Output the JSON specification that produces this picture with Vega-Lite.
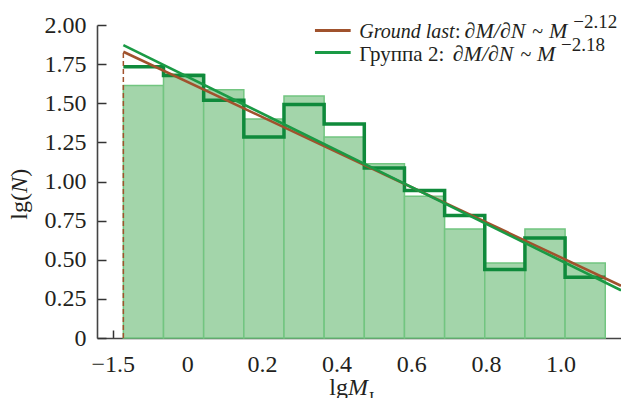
{
  "$schema": "https://vega.github.io/schema/vega-lite/v6.json",
  "width": 524,
  "height": 313,
  "autosize": {"type": "none"},
  "padding": {"left": 97, "top": 25, "right": 0, "bottom": 60},
  "background": "white",
  "config": {
    "view": {"stroke": null},
    "axis": {
      "labelFont": "Liberation Serif",
      "labelFontSize": 24,
      "labelColor": "#231f20",
      "labelOverlap": false,
      "domainColor": "#444",
      "domainWidth": 1.6,
      "tickColor": "#333",
      "tickWidth": 1.5,
      "grid": false,
      "title": null
    },
    "text": {"font": "Liberation Serif", "color": "#231f20", "baseline": "alphabetic", "align": "left"}
  },
  "datasets": {
    "bars": [
      {"x": -0.1714, "x2": -0.0638, "lgN": 1.613},
      {"x": -0.0638, "x2": 0.0438, "lgN": 1.686},
      {"x": 0.0438, "x2": 0.1514, "lgN": 1.586},
      {"x": 0.1514, "x2": 0.2590, "lgN": 1.400},
      {"x": 0.2590, "x2": 0.3666, "lgN": 1.547},
      {"x": 0.3666, "x2": 0.4742, "lgN": 1.285},
      {"x": 0.4742, "x2": 0.5818, "lgN": 1.114},
      {"x": 0.5818, "x2": 0.6894, "lgN": 0.905},
      {"x": 0.6894, "x2": 0.7970, "lgN": 0.697},
      {"x": 0.7970, "x2": 0.9046, "lgN": 0.479},
      {"x": 0.9046, "x2": 1.0122, "lgN": 0.697},
      {"x": 1.0122, "x2": 1.1198, "lgN": 0.479}
    ],
    "step": [
      {"x": -0.1714, "lgN": 1.733},
      {"x": -0.0638, "lgN": 1.677},
      {"x": 0.0438, "lgN": 1.519},
      {"x": 0.1514, "lgN": 1.285},
      {"x": 0.2590, "lgN": 1.492},
      {"x": 0.3666, "lgN": 1.368},
      {"x": 0.4742, "lgN": 1.087},
      {"x": 0.5818, "lgN": 0.942},
      {"x": 0.6894, "lgN": 0.782},
      {"x": 0.7970, "lgN": 0.437},
      {"x": 0.9046, "lgN": 0.639},
      {"x": 1.0122, "lgN": 0.388},
      {"x": 1.1198, "lgN": 0.388}
    ],
    "fits": [
      {"series": "Ground last", "x": -0.1714, "lgN": 1.829},
      {"series": "Ground last", "x": 1.162, "lgN": 0.334},
      {"series": "Группа 2", "x": -0.1714, "lgN": 1.871},
      {"series": "Группа 2", "x": 1.162, "lgN": 0.305}
    ],
    "one": [{}]
  },
  "layer": [
    {
      "data": {"name": "bars"},
      "mark": {"type": "rect", "fill": "#a3d5aa", "stroke": "#72c580", "strokeWidth": 1.5},
      "encoding": {
        "x": {"field": "x", "type": "quantitative",
          "scale": {"domain": [-0.242, 1.162], "nice": false, "zero": false},
          "axis": {"values": [-0.2, 0, 0.2, 0.4, 0.6, 0.8, 1.0], "tickSize": -8, "labelPadding": 22, "labelOverlap": false, "labelExpr": "datum.value < -0.1 ? '−1.5' : (datum.value == 0 ? '0' : format(datum.value, '.1f'))"}},
        "x2": {"field": "x2"},
        "y": {"field": "lgN", "type": "quantitative",
          "scale": {"domain": [0, 2], "nice": false, "zero": true},
          "axis": {"values": [0, 0.25, 0.5, 0.75, 1, 1.25, 1.5, 1.75, 2], "tickSize": -9, "labelPadding": 20, "labelOverlap": false, "labelBaseline": "middle", "labelExpr": "datum.value == 0 ? '0' : format(datum.value, '.2f')"}},
        "y2": {"datum": 0}
      }
    },
    {
      "data": {"name": "step"},
      "mark": {"type": "line", "interpolate": "step-after", "stroke": "#0f8a3b", "strokeWidth": 3.5, "strokeJoin": "miter", "strokeCap": "butt"},
      "encoding": {
        "x": {"field": "x", "type": "quantitative",
          "axis": {"values": [-0.2, 0, 0.2, 0.4, 0.6, 0.8, 1.0], "tickSize": -8, "labelPadding": 22, "labelOverlap": false, "labelExpr": "datum.value < -0.1 ? '−1.5' : (datum.value == 0 ? '0' : format(datum.value, '.1f'))"}},
        "y": {"field": "lgN", "type": "quantitative",
          "axis": {"values": [0, 0.25, 0.5, 0.75, 1, 1.25, 1.5, 1.75, 2], "tickSize": -9, "labelPadding": 20, "labelOverlap": false, "labelBaseline": "middle", "labelExpr": "datum.value == 0 ? '0' : format(datum.value, '.2f')"}}
      }
    },
    {
      "data": {"name": "one"},
      "mark": {"type": "rule", "stroke": "#a0522d", "strokeWidth": 1.5, "strokeDash": [5, 3]},
      "encoding": {
        "x": {"datum": -0.1714,
          "axis": {"values": [-0.2, 0, 0.2, 0.4, 0.6, 0.8, 1.0], "tickSize": -8, "labelPadding": 22, "labelOverlap": false, "labelExpr": "datum.value < -0.1 ? '−1.5' : (datum.value == 0 ? '0' : format(datum.value, '.1f'))"}},
        "y": {"datum": 0,
          "axis": {"values": [0, 0.25, 0.5, 0.75, 1, 1.25, 1.5, 1.75, 2], "tickSize": -9, "labelPadding": 20, "labelOverlap": false, "labelBaseline": "middle", "labelExpr": "datum.value == 0 ? '0' : format(datum.value, '.2f')"}},
        "y2": {"datum": 1.829}
      }
    },
    {
      "data": {"name": "fits"},
      "mark": {"type": "line", "strokeWidth": 2.6, "strokeCap": "butt"},
      "encoding": {
        "x": {"field": "x", "type": "quantitative",
          "axis": {"values": [-0.2, 0, 0.2, 0.4, 0.6, 0.8, 1.0], "tickSize": -8, "labelPadding": 22, "labelOverlap": false, "labelExpr": "datum.value < -0.1 ? '−1.5' : (datum.value == 0 ? '0' : format(datum.value, '.1f'))"}},
        "y": {"field": "lgN", "type": "quantitative",
          "axis": {"values": [0, 0.25, 0.5, 0.75, 1, 1.25, 1.5, 1.75, 2], "tickSize": -9, "labelPadding": 20, "labelOverlap": false, "labelBaseline": "middle", "labelExpr": "datum.value == 0 ? '0' : format(datum.value, '.2f')"}},
        "color": {"field": "series", "type": "nominal",
          "scale": {"domain": ["Ground last", "Группа 2"], "range": ["#a0522d", "#1a9a45"]},
          "legend": null},
        "order": {"field": "series"}
      }
    },
    {
      "data": {"name": "one"},
      "mark": {"type": "rule", "stroke": "#a0522d", "strokeWidth": 3},
      "encoding": {
        "x": {"datum": 0.342, "axis": {"values": [-0.2, 0, 0.2, 0.4, 0.6, 0.8, 1.0], "tickSize": -8, "labelPadding": 22, "labelOverlap": false, "labelExpr": "datum.value < -0.1 ? '−1.5' : (datum.value == 0 ? '0' : format(datum.value, '.1f'))"}},
        "x2": {"datum": 0.4377},
        "y": {"datum": 1.965, "axis": {"values": [0, 0.25, 0.5, 0.75, 1, 1.25, 1.5, 1.75, 2], "tickSize": -9, "labelPadding": 20, "labelOverlap": false, "labelBaseline": "middle", "labelExpr": "datum.value == 0 ? '0' : format(datum.value, '.2f')"}}
      }
    },
    {
      "data": {"name": "one"},
      "mark": {"type": "rule", "stroke": "#1a9a45", "strokeWidth": 3},
      "encoding": {
        "x": {"datum": 0.342, "axis": {"values": [-0.2, 0, 0.2, 0.4, 0.6, 0.8, 1.0], "tickSize": -8, "labelPadding": 22, "labelOverlap": false, "labelExpr": "datum.value < -0.1 ? '−1.5' : (datum.value == 0 ? '0' : format(datum.value, '.1f'))"}},
        "x2": {"datum": 0.4377},
        "y": {"datum": 1.824, "axis": {"values": [0, 0.25, 0.5, 0.75, 1, 1.25, 1.5, 1.75, 2], "tickSize": -9, "labelPadding": 20, "labelOverlap": false, "labelBaseline": "middle", "labelExpr": "datum.value == 0 ? '0' : format(datum.value, '.2f')"}}
      }
    },
    {
      "data": {"name": "one"},
      "mark": {"type": "text", "text": "Ground last", "fontStyle": "italic", "fontSize": 20},
      "encoding": {
        "x": {"datum": 0.4608, "axis": {"values": [-0.2, 0, 0.2, 0.4, 0.6, 0.8, 1.0], "tickSize": -8, "labelPadding": 22, "labelOverlap": false, "labelExpr": "datum.value < -0.1 ? '−1.5' : (datum.value == 0 ? '0' : format(datum.value, '.1f'))"}},
        "y": {"datum": 1.920, "axis": {"values": [0, 0.25, 0.5, 0.75, 1, 1.25, 1.5, 1.75, 2], "tickSize": -9, "labelPadding": 20, "labelOverlap": false, "labelBaseline": "middle", "labelExpr": "datum.value == 0 ? '0' : format(datum.value, '.2f')"}}
      }
    },
    {
      "data": {"name": "one"},
      "mark": {"type": "text", "text": ":", "fontSize": 20},
      "encoding": {
        "x": {"datum": 0.7170, "axis": {"values": [-0.2, 0, 0.2, 0.4, 0.6, 0.8, 1.0], "tickSize": -8, "labelPadding": 22, "labelOverlap": false, "labelExpr": "datum.value < -0.1 ? '−1.5' : (datum.value == 0 ? '0' : format(datum.value, '.1f'))"}},
        "y": {"datum": 1.920, "axis": {"values": [0, 0.25, 0.5, 0.75, 1, 1.25, 1.5, 1.75, 2], "tickSize": -9, "labelPadding": 20, "labelOverlap": false, "labelBaseline": "middle", "labelExpr": "datum.value == 0 ? '0' : format(datum.value, '.2f')"}}
      }
    },
    {
      "data": {"name": "one"},
      "mark": {"type": "text", "text": "∂M/∂N", "fontStyle": "italic", "fontSize": 22},
      "encoding": {
        "x": {"datum": 0.7430, "axis": {"values": [-0.2, 0, 0.2, 0.4, 0.6, 0.8, 1.0], "tickSize": -8, "labelPadding": 22, "labelOverlap": false, "labelExpr": "datum.value < -0.1 ? '−1.5' : (datum.value == 0 ? '0' : format(datum.value, '.1f'))"}},
        "y": {"datum": 1.920, "axis": {"values": [0, 0.25, 0.5, 0.75, 1, 1.25, 1.5, 1.75, 2], "tickSize": -9, "labelPadding": 20, "labelOverlap": false, "labelBaseline": "middle", "labelExpr": "datum.value == 0 ? '0' : format(datum.value, '.2f')"}}
      }
    },
    {
      "data": {"name": "one"},
      "mark": {"type": "text", "text": "~", "fontSize": 20},
      "encoding": {
        "x": {"datum": 0.9240, "axis": {"values": [-0.2, 0, 0.2, 0.4, 0.6, 0.8, 1.0], "tickSize": -8, "labelPadding": 22, "labelOverlap": false, "labelExpr": "datum.value < -0.1 ? '−1.5' : (datum.value == 0 ? '0' : format(datum.value, '.1f'))"}},
        "y": {"datum": 1.920, "axis": {"values": [0, 0.25, 0.5, 0.75, 1, 1.25, 1.5, 1.75, 2], "tickSize": -9, "labelPadding": 20, "labelOverlap": false, "labelBaseline": "middle", "labelExpr": "datum.value == 0 ? '0' : format(datum.value, '.2f')"}}
      }
    },
    {
      "data": {"name": "one"},
      "mark": {"type": "text", "text": "M", "fontStyle": "italic", "fontSize": 22},
      "encoding": {
        "x": {"datum": 0.9690, "axis": {"values": [-0.2, 0, 0.2, 0.4, 0.6, 0.8, 1.0], "tickSize": -8, "labelPadding": 22, "labelOverlap": false, "labelExpr": "datum.value < -0.1 ? '−1.5' : (datum.value == 0 ? '0' : format(datum.value, '.1f'))"}},
        "y": {"datum": 1.920, "axis": {"values": [0, 0.25, 0.5, 0.75, 1, 1.25, 1.5, 1.75, 2], "tickSize": -9, "labelPadding": 20, "labelOverlap": false, "labelBaseline": "middle", "labelExpr": "datum.value == 0 ? '0' : format(datum.value, '.2f')"}}
      }
    },
    {
      "data": {"name": "one"},
      "mark": {"type": "text", "text": "−2.12", "fontSize": 19},
      "encoding": {
        "x": {"datum": 1.0340, "axis": {"values": [-0.2, 0, 0.2, 0.4, 0.6, 0.8, 1.0], "tickSize": -8, "labelPadding": 22, "labelOverlap": false, "labelExpr": "datum.value < -0.1 ? '−1.5' : (datum.value == 0 ? '0' : format(datum.value, '.1f'))"}},
        "y": {"datum": 1.984, "axis": {"values": [0, 0.25, 0.5, 0.75, 1, 1.25, 1.5, 1.75, 2], "tickSize": -9, "labelPadding": 20, "labelOverlap": false, "labelBaseline": "middle", "labelExpr": "datum.value == 0 ? '0' : format(datum.value, '.2f')"}}
      }
    },
    {
      "data": {"name": "one"},
      "mark": {"type": "text", "text": "Группа 2:", "fontSize": 21},
      "encoding": {
        "x": {"datum": 0.4608, "axis": {"values": [-0.2, 0, 0.2, 0.4, 0.6, 0.8, 1.0], "tickSize": -8, "labelPadding": 22, "labelOverlap": false, "labelExpr": "datum.value < -0.1 ? '−1.5' : (datum.value == 0 ? '0' : format(datum.value, '.1f'))"}},
        "y": {"datum": 1.773, "axis": {"values": [0, 0.25, 0.5, 0.75, 1, 1.25, 1.5, 1.75, 2], "tickSize": -9, "labelPadding": 20, "labelOverlap": false, "labelBaseline": "middle", "labelExpr": "datum.value == 0 ? '0' : format(datum.value, '.2f')"}}
      }
    },
    {
      "data": {"name": "one"},
      "mark": {"type": "text", "text": "∂M/∂N", "fontStyle": "italic", "fontSize": 22},
      "encoding": {
        "x": {"datum": 0.7110, "axis": {"values": [-0.2, 0, 0.2, 0.4, 0.6, 0.8, 1.0], "tickSize": -8, "labelPadding": 22, "labelOverlap": false, "labelExpr": "datum.value < -0.1 ? '−1.5' : (datum.value == 0 ? '0' : format(datum.value, '.1f'))"}},
        "y": {"datum": 1.773, "axis": {"values": [0, 0.25, 0.5, 0.75, 1, 1.25, 1.5, 1.75, 2], "tickSize": -9, "labelPadding": 20, "labelOverlap": false, "labelBaseline": "middle", "labelExpr": "datum.value == 0 ? '0' : format(datum.value, '.2f')"}}
      }
    },
    {
      "data": {"name": "one"},
      "mark": {"type": "text", "text": "~", "fontSize": 20},
      "encoding": {
        "x": {"datum": 0.8930, "axis": {"values": [-0.2, 0, 0.2, 0.4, 0.6, 0.8, 1.0], "tickSize": -8, "labelPadding": 22, "labelOverlap": false, "labelExpr": "datum.value < -0.1 ? '−1.5' : (datum.value == 0 ? '0' : format(datum.value, '.1f'))"}},
        "y": {"datum": 1.773, "axis": {"values": [0, 0.25, 0.5, 0.75, 1, 1.25, 1.5, 1.75, 2], "tickSize": -9, "labelPadding": 20, "labelOverlap": false, "labelBaseline": "middle", "labelExpr": "datum.value == 0 ? '0' : format(datum.value, '.2f')"}}
      }
    },
    {
      "data": {"name": "one"},
      "mark": {"type": "text", "text": "M", "fontStyle": "italic", "fontSize": 22},
      "encoding": {
        "x": {"datum": 0.9370, "axis": {"values": [-0.2, 0, 0.2, 0.4, 0.6, 0.8, 1.0], "tickSize": -8, "labelPadding": 22, "labelOverlap": false, "labelExpr": "datum.value < -0.1 ? '−1.5' : (datum.value == 0 ? '0' : format(datum.value, '.1f'))"}},
        "y": {"datum": 1.773, "axis": {"values": [0, 0.25, 0.5, 0.75, 1, 1.25, 1.5, 1.75, 2], "tickSize": -9, "labelPadding": 20, "labelOverlap": false, "labelBaseline": "middle", "labelExpr": "datum.value == 0 ? '0' : format(datum.value, '.2f')"}}
      }
    },
    {
      "data": {"name": "one"},
      "mark": {"type": "text", "text": "−2.18", "fontSize": 19},
      "encoding": {
        "x": {"datum": 1.0010, "axis": {"values": [-0.2, 0, 0.2, 0.4, 0.6, 0.8, 1.0], "tickSize": -8, "labelPadding": 22, "labelOverlap": false, "labelExpr": "datum.value < -0.1 ? '−1.5' : (datum.value == 0 ? '0' : format(datum.value, '.1f'))"}},
        "y": {"datum": 1.837, "axis": {"values": [0, 0.25, 0.5, 0.75, 1, 1.25, 1.5, 1.75, 2], "tickSize": -9, "labelPadding": 20, "labelOverlap": false, "labelBaseline": "middle", "labelExpr": "datum.value == 0 ? '0' : format(datum.value, '.2f')"}}
      }
    },
    {
      "data": {"name": "one"},
      "mark": {"type": "text", "text": "lg", "fontSize": 24},
      "encoding": {
        "x": {"datum": 0.3804, "axis": {"values": [-0.2, 0, 0.2, 0.4, 0.6, 0.8, 1.0], "tickSize": -8, "labelPadding": 22, "labelOverlap": false, "labelExpr": "datum.value < -0.1 ? '−1.5' : (datum.value == 0 ? '0' : format(datum.value, '.1f'))"}},
        "y": {"datum": -0.3625, "axis": {"values": [0, 0.25, 0.5, 0.75, 1, 1.25, 1.5, 1.75, 2], "tickSize": -9, "labelPadding": 20, "labelOverlap": false, "labelBaseline": "middle", "labelExpr": "datum.value == 0 ? '0' : format(datum.value, '.2f')"}}
      }
    },
    {
      "data": {"name": "one"},
      "mark": {"type": "text", "text": "M", "fontStyle": "italic", "fontSize": 24},
      "encoding": {
        "x": {"datum": 0.4305, "axis": {"values": [-0.2, 0, 0.2, 0.4, 0.6, 0.8, 1.0], "tickSize": -8, "labelPadding": 22, "labelOverlap": false, "labelExpr": "datum.value < -0.1 ? '−1.5' : (datum.value == 0 ? '0' : format(datum.value, '.1f'))"}},
        "y": {"datum": -0.3625, "axis": {"values": [0, 0.25, 0.5, 0.75, 1, 1.25, 1.5, 1.75, 2], "tickSize": -9, "labelPadding": 20, "labelOverlap": false, "labelBaseline": "middle", "labelExpr": "datum.value == 0 ? '0' : format(datum.value, '.2f')"}}
      }
    },
    {
      "data": {"name": "one"},
      "mark": {"type": "text", "text": "I", "fontSize": 16},
      "encoding": {
        "x": {"datum": 0.4867, "axis": {"values": [-0.2, 0, 0.2, 0.4, 0.6, 0.8, 1.0], "tickSize": -8, "labelPadding": 22, "labelOverlap": false, "labelExpr": "datum.value < -0.1 ? '−1.5' : (datum.value == 0 ? '0' : format(datum.value, '.1f'))"}},
        "y": {"datum": -0.414, "axis": {"values": [0, 0.25, 0.5, 0.75, 1, 1.25, 1.5, 1.75, 2], "tickSize": -9, "labelPadding": 20, "labelOverlap": false, "labelBaseline": "middle", "labelExpr": "datum.value == 0 ? '0' : format(datum.value, '.2f')"}}
      }
    },
    {
      "data": {"name": "one"},
      "mark": {"type": "text", "text": "lg(", "fontSize": 24, "angle": 270},
      "encoding": {
        "x": {"datum": -0.4294, "axis": {"values": [-0.2, 0, 0.2, 0.4, 0.6, 0.8, 1.0], "tickSize": -8, "labelPadding": 22, "labelOverlap": false, "labelExpr": "datum.value < -0.1 ? '−1.5' : (datum.value == 0 ? '0' : format(datum.value, '.1f'))"}},
        "y": {"datum": 0.756, "axis": {"values": [0, 0.25, 0.5, 0.75, 1, 1.25, 1.5, 1.75, 2], "tickSize": -9, "labelPadding": 20, "labelOverlap": false, "labelBaseline": "middle", "labelExpr": "datum.value == 0 ? '0' : format(datum.value, '.2f')"}}
      }
    },
    {
      "data": {"name": "one"},
      "mark": {"type": "text", "text": "N", "fontStyle": "italic", "fontSize": 24, "angle": 270},
      "encoding": {
        "x": {"datum": -0.4294, "axis": {"values": [-0.2, 0, 0.2, 0.4, 0.6, 0.8, 1.0], "tickSize": -8, "labelPadding": 22, "labelOverlap": false, "labelExpr": "datum.value < -0.1 ? '−1.5' : (datum.value == 0 ? '0' : format(datum.value, '.1f'))"}},
        "y": {"datum": 0.927, "axis": {"values": [0, 0.25, 0.5, 0.75, 1, 1.25, 1.5, 1.75, 2], "tickSize": -9, "labelPadding": 20, "labelOverlap": false, "labelBaseline": "middle", "labelExpr": "datum.value == 0 ? '0' : format(datum.value, '.2f')"}}
      }
    },
    {
      "data": {"name": "one"},
      "mark": {"type": "text", "text": ")", "fontSize": 24, "angle": 270},
      "encoding": {
        "x": {"datum": -0.4294, "axis": {"values": [-0.2, 0, 0.2, 0.4, 0.6, 0.8, 1.0], "tickSize": -8, "labelPadding": 22, "labelOverlap": false, "labelExpr": "datum.value < -0.1 ? '−1.5' : (datum.value == 0 ? '0' : format(datum.value, '.1f'))"}},
        "y": {"datum": 1.030, "axis": {"values": [0, 0.25, 0.5, 0.75, 1, 1.25, 1.5, 1.75, 2], "tickSize": -9, "labelPadding": 20, "labelOverlap": false, "labelBaseline": "middle", "labelExpr": "datum.value == 0 ? '0' : format(datum.value, '.2f')"}}
      }
    }
  ]
}
